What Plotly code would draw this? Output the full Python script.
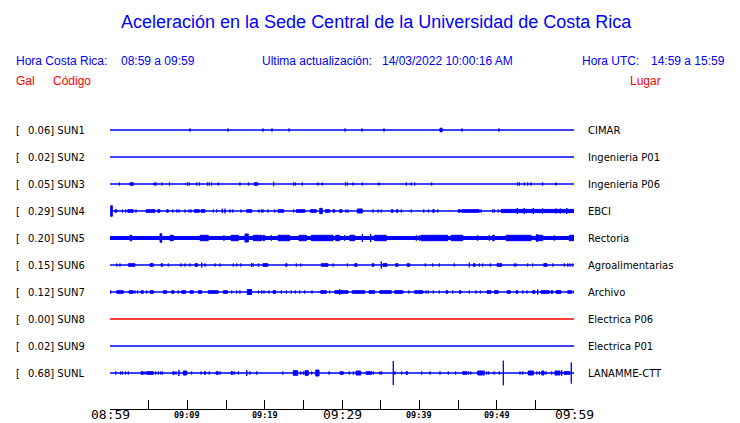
import plotly.graph_objects as go

# ---------------- data ----------------
TITLE = "Aceleración en la Sede Central de la Universidad de Costa Rica"
CODES = ["SUN1", "SUN2", "SUN3", "SUN4", "SUN5", "SUN6", "SUN7", "SUN8", "SUN9", "SUNL"]
PEAKS = [0.06, 0.02, 0.05, 0.29, 0.20, 0.15, 0.12, 0.00, 0.02, 0.68]
PLACES = ["CIMAR", "Ingenieria P01", "Ingenieria P06", "EBCI", "Rectoria",
          "Agroalimentarias", "Archivo", "Electrica P06", "Electrica P01", "LANAMME-CTT"]
TRACE_COLORS = ["#0000ff"] * 7 + ["#ff0000"] + ["#0000ff"] * 2

# time axis: minutes after 08:59 (local)
TICK_MINUTES = [0, 10, 20, 30, 40, 50, 60]
TICK_LABELS = ["08:59", "09:09", "09:19", "09:29", "09:39", "09:49", "09:59"]
TICK_BIG = [True, False, False, True, False, False, True]

# events per trace: number -> short tick; (t0, t1) -> burst; (t0, t1, amp) -> burst with amplitude
SUN1 = [10.34, 15.26, 19.78, 20.95, 23.15, 30.39, 32.59, 35.43, (42.67, 42.95, 1.8), 45.52, 50.30]
SUN2 = []
SUN3 = [1.2, (2.6, 3.0), 5.73, 5.95, 6.69, 7.68, 10.0, 10.25, 11.2, 11.55, 12.6, 12.84, 13.15,
        14.0, 16.8, 17.9, (18.66, 19.1), (21.17, 21.17, 2.2), 23.75, 23.96, 24.87, 26.9, 27.45,
        30.48, 30.69, 31.42, 32.63, 34.79, 38.32, 38.96, 39.4, 41.6, 52.72, 52.93, 53.58,
        54.01, 54.44, 55.95, 57.67]
SUN4 = [(0.09, 0.30, 5.3), (0.65, 0.87), 1.59, 2.03, (2.29, 3.01), 3.36, (4.66, 5.82),
        (6.17, 6.47), (7.33, 7.54), 8.11, 8.63, 8.92, 9.70, 10.22, 10.47, (10.90, 11.55),
        (11.77, 12.28), 13.36, 13.80, (14.52, 14.52, 2.3), (14.87, 14.87, 2.3), 15.52, 15.87,
        16.94, (17.68, 18.32), 19.27, 19.62, 19.78, 20.43, 21.30, (21.72, 22.46), 23.75,
        (24.09, 25.22), (25.90, 26.68), (27.12, 27.45, 2.7), (27.84, 28.41), (28.84, 29.06),
        (29.70, 30.00), 30.52, 30.78, (31.98, 32.63, 2.0), 34.01, 34.66, 35.08, (36.38, 36.60),
        (37.02, 37.24), 37.67, 38.96, 40.57, 41.16, (41.73, 41.93), 42.38, (45.04, 45.30),
        (45.48, 47.76), 47.98, 49.49, 49.70, 50.21, (50.56, 60.0, 1.6),
        (52.67, 52.67, 3.0), (53.57, 53.57, 3.0), (54.74, 54.74, 3.0), (55.95, 55.95, 2.5),
        (57.67, 57.67, 2.5), (58.23, 58.23, 2.5), (59.06, 59.06, 3.0)]
SUN5 = [(0.0, 60.0, 1.5), (2.59, 2.81, 2.7), (6.47, 6.69, 4.3), (7.76, 8.19, 2.7),
        (11.64, 12.71, 2.7), (14.74, 14.74, 2.7), (15.65, 16.59, 2.7), (17.46, 17.88, 4.0),
        (18.53, 19.62, 2.7), (19.78, 20.0, 2.7), (20.86, 20.86, 2.7), (21.72, 23.24, 2.7),
        (24.44, 25.38, 2.7), (26.03, 28.84, 2.7), (29.19, 29.70, 2.7), (30.34, 30.34, 2.7),
        (31.00, 31.64, 2.7), (32.63, 32.63, 4.0), (33.71, 33.71, 4.0), (34.23, 35.73, 2.7),
        (39.61, 39.61, 2.7), (40.05, 40.05, 2.7), (40.22, 43.67, 2.7), (44.10, 45.61, 2.7),
        (47.55, 47.55, 2.7), (49.05, 49.05, 2.7), (49.49, 49.70, 2.7), (51.21, 54.44, 2.7),
        (55.09, 55.95, 2.7), (55.22, 55.22, 4.0), (57.45, 57.45, 2.7), (59.39, 60.0, 2.7)]
SUN6 = [0.87, 1.29, (2.37, 3.23), (5.17, 5.60), (6.60, 6.81), 7.54, 9.18, 9.70, 10.34,
        (10.99, 11.34), (11.86, 11.86, 2.5), 12.28, 13.58, 14.22, 15.94, 16.38, 16.90,
        (18.32, 18.32, 2.0), 18.53, 19.18, (19.78, 20.43), (22.72, 22.89), 24.09, 24.66,
        (27.32, 28.19), 28.84, 30.69, (31.64, 31.94), (33.92, 34.14), (35.08, 35.08, 3.5),
        (35.30, 35.82), (36.94, 37.24), (38.41, 38.75), 40.77, 41.73, 42.58, 44.52,
        (46.46, 46.46, 2.3), (46.98, 47.20), 47.76, 48.19, 49.18, (50.04, 50.65), 52.28,
        52.50, 54.01, 54.66, (56.08, 56.51), 57.25, 58.75, 59.19, 59.48, 59.83]
SUN7 = [0.09, (0.87, 1.72), (2.46, 3.01), 3.23, 3.58, (4.01, 4.31), 4.75, (5.17, 5.60),
        (6.89, 7.33), (7.98, 8.28), 8.83, (9.27, 9.79), (10.34, 10.77), (11.42, 11.86),
        (12.71, 14.0), (14.65, 15.22), 15.74, 16.38, 16.81, (17.75, 18.32, 2.5), 19.18, 19.62,
        19.91, 20.56, (21.08, 21.43), 22.15, 22.80, 23.44, 23.96, 24.53, 25.18, 26.12,
        (27.25, 27.97), 28.41, (29.06, 30.78), (29.70, 29.70, 2.7), (31.33, 32.93),
        (33.49, 34.23), (34.88, 36.38), (36.81, 37.89), 38.66, (39.40, 40.47), 40.86, 41.16,
        41.81, 42.58, (43.45, 43.67), 44.31, (45.17, 45.39), 46.46, 47.33, 47.88,
        (48.75, 49.27), (49.70, 50.21), (51.34, 51.76), (52.50, 52.72), 53.37, 53.92,
        (54.66, 54.96), (55.31, 55.31, 2.5), (55.73, 56.81), (57.03, 57.25), (57.67, 58.32),
        (59.19, 59.70), 60.0]
SUN8 = []
SUN9 = []
SUNL = [0.74, 1.38, 1.59, 2.03, 2.37, (4.01, 4.31), 4.53, (4.75, 5.60), 5.91, 6.25, 6.56,
        6.76, (8.11, 8.31), 8.53, (8.92, 8.92, 3.0), (9.48, 9.92, 2.0), 10.56, 11.77,
        (12.19, 12.36), 12.84, (13.71, 14.0), 14.22, (15.65, 15.87), 16.07, 16.59,
        (17.68, 17.68, 3.0), 18.10, 18.97, 22.33, (23.70, 24.27, 2.3), 24.66, 25.0,
        (25.22, 25.64, 2.3), 26.08, (26.60, 27.03, 3.0), 28.32, (29.74, 30.17), 30.94, 31.46,
        (31.81, 32.42, 2.0), (33.10, 33.84), 34.05, 34.91, 35.13, (36.63, 36.63, 12.0), 36.85,
        37.72, (38.28, 38.50), 40.31, 41.38, 42.67, 43.75, 44.70, (45.61, 46.13), 46.33,
        46.64, (47.55, 48.19, 2.0), (48.36, 48.36, 2.5), 48.71, 48.97, 49.66, 50.34,
        (50.86, 50.86, 12.3), 53.02, 53.37, (54.09, 54.74, 2.0), 55.18, 55.51,
        (55.82, 56.12, 2.0), 56.38, 57.12, (57.54, 58.19, 2.0), (58.41, 58.41, 3.0),
        (58.71, 59.48), (59.65, 59.65, 10.5)]
EVENTS = [SUN1, SUN2, SUN3, SUN4, SUN5, SUN6, SUN7, SUN8, SUN9, SUNL]

HEADER_LOCAL = "08:59 a 09:59"
HEADER_UPDATE = "14/03/2022 10:00:16 AM"
HEADER_UTC = "14:59 a 15:59"

# ---------------- layout constants ----------------
W, H = 740, 423
ML, MR, MT, MB = 110, 166, 115, 14
PW, PH = W - ML - MR, H - MT - MB
SLOT_PX = 27.0
TICK_AMP = 1.5
BURST_AMP = 1.3
BLUE = "#0000ff"
RED = "#ff0000"


def px_x(p):
    return (p - ML) / PW


def px_y(p):
    return 1 - (p - MT) / PH


fig = go.Figure()

for i, (code, evs, col) in enumerate(zip(CODES, EVENTS, TRACE_COLORS)):
    base = -i
    fig.add_trace(go.Scatter(x=[0, 60], y=[base, base], mode="lines",
                             line=dict(color=col, width=1.3), hoverinfo="skip",
                             showlegend=False))
    xs, ys = [], []
    for ev in evs:
        if isinstance(ev, tuple):
            if len(ev) == 3:
                t0, t1, a = ev
            else:
                t0, t1 = ev
                a = BURST_AMP
        else:
            t0 = t1 = ev
            a = TICK_AMP
        a = a / SLOT_PX
        xs += [t0, t1, t1, t0, t0, None]
        ys += [base - a, base - a, base + a, base + a, base - a, None]
    if xs:
        fig.add_trace(go.Scatter(x=xs, y=ys, mode="lines", fill="toself",
                                 fillcolor=col, line=dict(color=col, width=1),
                                 hoverinfo="skip", showlegend=False))

y_top = (130 - MT) / SLOT_PX
y_bot = -(MT + PH - 130) / SLOT_PX

fig.update_xaxes(range=[0, 60], showgrid=False, zeroline=False, showline=True,
                 linecolor="black", linewidth=1, ticks="inside", ticklen=9,
                 tickwidth=1, tickcolor="black", tick0=0, dtick=5,
                 showticklabels=False, fixedrange=True)
fig.update_yaxes(range=[y_bot, y_top], showgrid=False, zeroline=False,
                 showline=False, showticklabels=False, ticks="", fixedrange=True)

ann = []


def add_text(text, xp, yp, size, color, family="Liberation Sans", xanchor="left"):
    ann.append(dict(text=text, x=px_x(xp), y=px_y(yp), xref="paper", yref="paper",
                    showarrow=False, xanchor=xanchor, yanchor="middle",
                    font=dict(size=size, color=color, family=family)))


add_text(TITLE, 376, 22, 18, BLUE, xanchor="center")
add_text("Hora Costa Rica:", 14, 61, 12, BLUE)
add_text(HEADER_LOCAL, 119, 61, 12, BLUE)
add_text("Ultima actualización:", 260, 61, 12, BLUE)
add_text(HEADER_UPDATE, 380, 61, 12, BLUE)
add_text("Hora UTC:", 580, 61, 12, BLUE)
add_text(HEADER_UTC, 649, 61, 12, BLUE)
add_text("Gal", 14, 81, 12, RED)
add_text("Código", 51, 81, 12, RED)
add_text("Lugar", 628, 81, 12, RED)

for i, (code, pk, place) in enumerate(zip(CODES, PEAKS, PLACES)):
    for txt, xp in [("[", 14), (f"{pk:.2f}] {code}", 26)]:
        ann.append(dict(text=txt, x=px_x(xp), y=-i, xref="paper", yref="y",
                        showarrow=False, xanchor="left", yanchor="middle",
                        font=dict(size=10, color="black", family="DejaVu Sans")))
    ann.append(dict(text=place, x=px_x(586), y=-i, xref="paper", yref="y",
                    showarrow=False, xanchor="left", yanchor="middle",
                    font=dict(size=10, color="black", family="DejaVu Sans")))

for t, lab, big in zip(TICK_MINUTES, TICK_LABELS, TICK_BIG):
    if big:
        ann.append(dict(text=lab, x=t, y=px_y(H), xref="x", yref="paper",
                        showarrow=False, xanchor="center", yanchor="bottom", borderpad=0,
                        font=dict(size=13, color="black", family="DejaVu Sans Mono")))
    else:
        ann.append(dict(text=f"<b>{lab}</b>", x=t, y=px_y(415), xref="x", yref="paper",
                        showarrow=False, xanchor="center", yanchor="middle",
                        font=dict(size=8.5, color="black", family="DejaVu Sans Mono")))

fig.update_layout(width=W, height=H, margin=dict(l=ML, r=MR, t=MT, b=MB),
                  paper_bgcolor="white", plot_bgcolor="white", annotations=ann,
                  showlegend=False)

fig.write_html("out.html", config={"displayModeBar": False},
               post_script="document.body.style.margin='0';document.body.style.overflow='hidden';")
